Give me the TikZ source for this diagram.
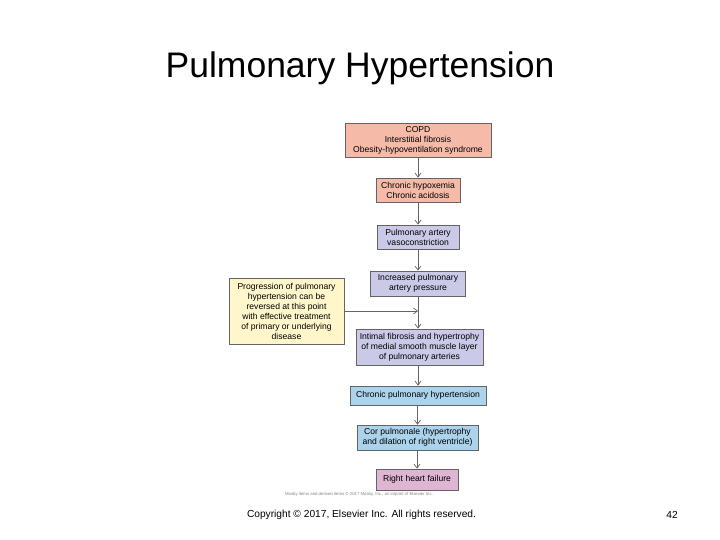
\documentclass[tikz,border=0pt]{standalone}
\usepackage{fontspec}
\setmainfont{Liberation Sans}
\usetikzlibrary{arrows.meta}

\definecolor{salmon}{RGB}{245,187,168}
\definecolor{lavender}{RGB}{202,202,232}
\definecolor{skyblue}{RGB}{172,211,236}
\definecolor{mauve}{RGB}{222,182,212}
\definecolor{paleyellow}{RGB}{255,246,204}
\definecolor{edgegray}{RGB}{100,100,100}

\tikzset{
  stepbox/.style={draw=edgegray, line width=0.7pt, align=center, inner sep=1pt,
    font=\fontsize{8.6}{10}\selectfont},
  flow/.style={->, draw=edgegray, line width=0.7pt}
}

\begin{document}
\begin{tikzpicture}[x=1pt, y=-1pt, >={Straight Barb[length=4pt, width=6pt]}]
	\useasboundingbox (0,0) rectangle (720,540);
	\node (title) at (360,68) {\fontsize{35.5}{42}\selectfont Pulmonary Hypertension};

	\node[stepbox, fill=salmon, minimum width=146pt, minimum height=34pt] (copd) at (418,140)
		{COPD\\Interstitial fibrosis\\Obesity-hypoventilation syndrome};
	\node[stepbox, fill=salmon, minimum width=84pt, minimum height=24pt] (hypox) at (418,190)
		{Chronic hypoxemia\\Chronic acidosis};
	\node[stepbox, fill=lavender, minimum width=82pt, minimum height=24pt] (vaso) at (418,237)
		{Pulmonary artery\\vasoconstriction};
	\node[stepbox, fill=lavender, minimum width=95pt, minimum height=25pt] (press) at (418,283.5)
		{Increased pulmonary\\artery pressure};
	\node[stepbox, fill=lavender, minimum width=127pt, minimum height=36pt] (intima) at (419.5,347)
		{Intimal fibrosis and hypertrophy\\of medial smooth muscle layer\\of pulmonary arteries};
	\node[stepbox, fill=skyblue, minimum width=136pt, minimum height=19pt] (cph) at (418,395.5)
		{Chronic pulmonary hypertension};
	\node[stepbox, fill=skyblue, minimum width=121pt, minimum height=25pt] (corpul) at (417.5,437.5)
		{Cor pulmonale (hypertrophy\\and dilation of right ventricle)};
	\node[stepbox, fill=mauve, minimum width=82pt, minimum height=21pt] (rhf) at (417,479.5)
		{Right heart failure};
	\node[stepbox, fill=paleyellow, minimum width=115pt, minimum height=66pt] (revers) at (286.5,311)
		{Progression of pulmonary\\hypertension can be\\reversed at this point\\with effective treatment\\of primary or underlying\\disease};

	\draw[flow] (copd) -- (hypox);
	\draw[flow] (hypox) -- (vaso);
	\draw[flow] (vaso) -- (press);
	\draw[flow] (press.south) -- (press.south |- intima.north);
	\coordinate (meet) at (press.south |- revers.east);
	\draw[flow] (revers.east) -- (meet);
	\draw[flow] (intima.south -| cph.north) -- (cph);
	\draw[flow] (cph.south -| corpul.north) -- (corpul);
	\draw[flow] (corpul.south -| rhf.north) -- (rhf);

	\node[font=\fontsize{4.3}{5}\selectfont, text=gray] (credit) at (359,494)
		{Mosby items and derived items \copyright{} 2017 Mosby, Inc., an imprint of Elsevier Inc.};
	\node[font=\fontsize{10.2}{12}\selectfont] (copy) at (361.5,515)
		{Copyright \copyright{} 2017, Elsevier Inc. All rights reserved.};
	\node[font=\fontsize{10.2}{12}\selectfont] (page) at (672,515) {42};
\end{tikzpicture}
\end{document}
